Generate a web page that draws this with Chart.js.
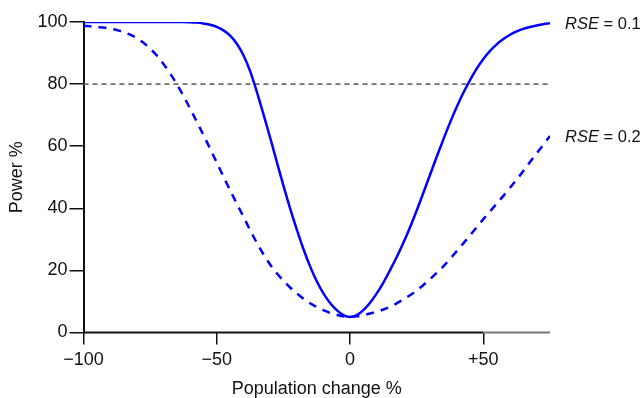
<!DOCTYPE html>
<html>
<head>
<meta charset="utf-8">
<script src="https://cdn.jsdelivr.net/npm/chart.js@4.4.1/dist/chart.umd.min.js"></script>
<style>
  html, body { margin: 0; padding: 0; background: #ffffff; }
  #wrap { width: 644px; height: 398px; position: relative; }
  canvas { display: block; }
</style>
</head>
<body>
<div id="wrap"><canvas id="c" width="644" height="398"></canvas></div>
<script>
// ---- data ----
const populationChange = [
  -100, -97.5, -95, -92.5, -90, -87.5, -85, -82.5, -80, -77.5, -75, -72.5, -70, -67.5, -65, -62.5,
  -60, -57.5, -55, -52.5, -50, -47.5, -45, -42.5, -40, -37.5, -35, -32.5, -30, -27.5, -25, -22.5,
  -20, -17.5, -15, -12.5, -10, -7.5, -5, -2.5, 0, 2.5, 5, 7.5, 10, 12.5, 15, 17.5,
  20, 22.5, 25, 27.5, 30, 32.5, 35, 37.5, 40, 42.5, 45, 47.5, 50, 52.5, 55, 57.5,
  60, 62.5, 65, 67.5, 70, 72.5, 75
];
const powerRse01 = [
  100, 100, 100, 100, 100, 100, 100, 100, 100, 100, 100, 100, 100, 100, 100, 100,
  99.9, 99.8, 99.5, 99.1, 98.4, 97.3, 95.6, 93.0, 89.3, 84.2, 77.6, 70.3, 62.8, 55.0, 47.3, 40.0,
  33.2, 26.9, 21.3, 16.5, 12.6, 9.5, 7.2, 5.6, 5.0, 5.6, 7.2, 9.6, 12.6, 16.1, 20.1, 24.3,
  28.9, 33.9, 39.3, 45.0, 50.8, 56.6, 62.2, 67.6, 72.6, 77.2, 81.3, 85.0, 88.1, 90.7, 92.8, 94.5,
  95.9, 97.0, 97.8, 98.4, 98.9, 99.3, 99.6
];
const powerRse02 = [
  98.8, 98.6, 98.4, 98.2, 97.9, 97.4, 96.8, 95.9, 94.8, 93.3, 91.4, 89.2, 86.5, 83.4, 80.0, 76.2,
  72.1, 67.9, 63.6, 59.2, 54.7, 50.2, 45.8, 41.5, 37.3, 33.0, 28.9, 25.2, 21.9, 19.1, 16.7, 14.5,
  12.6, 10.9, 9.4, 8.2, 7.2, 6.3, 5.7, 5.2, 5.1, 5.2, 5.6, 6.1, 6.7, 7.4, 8.3, 9.4,
  10.7, 12.0, 13.5, 15.3, 17.2, 19.2, 21.3, 23.7, 26.2, 28.7, 31.3, 33.9, 36.5, 39.0, 41.5, 44.0,
  46.6, 49.3, 52.0, 54.9, 57.7, 60.5, 63.3
];
const seriesRse = ['0.1', '0.2'];
const thresholdPower = 80;
const xTicks = [-100, -50, 0, 50];
const yTicks = [0, 20, 40, 60, 80, 100];
const xRange = [-100, 75];
const yRange = [0, 100];

const FONT = "'Liberation Sans', Arial, sans-serif";
const BLUE = '#0000ff';

function pts(vals) { return populationChange.map((x, i) => ({ x: x, y: vals[i] })); }

const endLabels = {
  id: 'endLabels',
  afterDatasetsDraw(chart) {
    const ctx = chart.ctx;
    ctx.save();
    ctx.fillStyle = '#111';
    ctx.textBaseline = 'middle';
    [0, 1].forEach((di) => {
      const meta = chart.getDatasetMeta(di);
      const p = meta.data[meta.data.length - 1];
      let x = p.x + 15;
      const y = p.y + 1;
      ctx.font = 'italic 16.5px ' + FONT;
      ctx.fillText('RSE', x, y);
      x += ctx.measureText('RSE').width;
      ctx.font = '16.5px ' + FONT;
      ctx.fillText(' = ' + seriesRse[di], x, y);
    });
    ctx.restore();
  }
};

const xAxisLine = {
  id: 'xAxisLine',
  afterDatasetsDraw(chart) {
    const ctx = chart.ctx;
    const xs = chart.scales.x, ys = chart.scales.y;
    const y0 = ys.getPixelForValue(0);
    const xMid = xs.getPixelForValue(50);
    ctx.save();
    ctx.lineWidth = 2;
    ctx.strokeStyle = '#111';
    ctx.beginPath(); ctx.moveTo(xs.left, y0); ctx.lineTo(xMid, y0); ctx.stroke();
    ctx.strokeStyle = '#777';
    ctx.beginPath(); ctx.moveTo(xMid, y0); ctx.lineTo(xs.right, y0); ctx.stroke();
    ctx.restore();
  }
};

new Chart(document.getElementById('c'), {
  type: 'line',
  data: {
    datasets: [
      { data: pts(powerRse01), borderColor: BLUE, borderWidth: 2.5, pointRadius: 0, cubicInterpolationMode: 'monotone', fill: false, order: 1 },
      { data: pts(powerRse02), borderColor: BLUE, borderWidth: 2.5, borderDash: [8, 7], pointRadius: 0, cubicInterpolationMode: 'monotone', fill: false, order: 2 },
      { data: [{ x: xRange[0], y: thresholdPower }, { x: xRange[1], y: thresholdPower }], borderColor: '#6e6e6e', borderWidth: 1.6, borderDash: [5, 4], pointRadius: 0, fill: false, order: 3 }
    ]
  },
  options: {
    responsive: false,
    animation: false,
    devicePixelRatio: 1,
    layout: { padding: { top: 22, right: 94, left: 0, bottom: 0 } },
    plugins: { legend: { display: false }, tooltip: { enabled: false } },
    scales: {
      x: {
        type: 'linear', min: xRange[0], max: xRange[1],
        afterBuildTicks: (s) => { s.ticks = xTicks.map(v => ({ value: v })); },
        afterFit: (s) => { s.height = 65.5; },
        border: { display: false },
        grid: { display: true, drawOnChartArea: false, drawTicks: true, tickLength: 12, color: '#111', lineWidth: 1.5 },
        ticks: {
          color: '#111', font: { family: FONT, size: 18 }, padding: 5, maxRotation: 0,
          callback: (v) => v < 0 ? '\u2212' + Math.abs(v) : (v > 0 ? '+' + v : '0')
        },
        title: { display: true, text: 'Population change %', color: '#111', font: { family: FONT, size: 18, lineHeight: 1.0 }, padding: { top: 2, bottom: 0 } }
      },
      y: {
        type: 'linear', min: yRange[0], max: yRange[1],
        afterBuildTicks: (s) => { s.ticks = yTicks.map(v => ({ value: v })); },
        afterFit: (s) => { s.width = 83.5; },
        border: { display: true, color: '#111', width: 2 },
        grid: { display: true, drawOnChartArea: false, drawTicks: true, tickLength: 14, color: '#111', lineWidth: 1.5 },
        ticks: { color: '#111', font: { family: FONT, size: 18 }, padding: 2 },
        title: { display: true, text: 'Power %', color: '#111', font: { family: FONT, size: 18 }, padding: { top: 6, bottom: 4 } }
      }
    }
  },
  plugins: [endLabels, xAxisLine]
});
</script>
</body>
</html>
